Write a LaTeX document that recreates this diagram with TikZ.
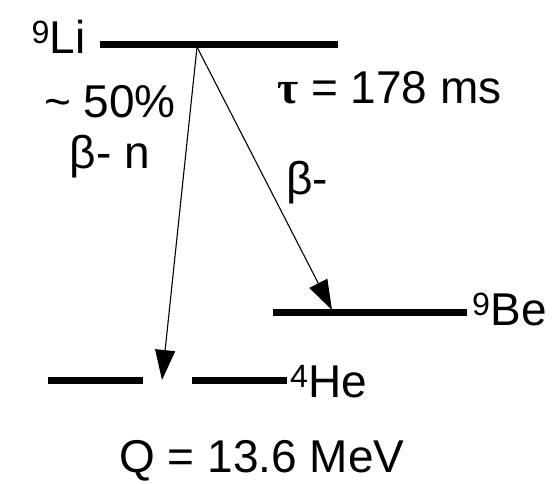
\documentclass[tikz,border=0pt]{standalone}
\usepackage{fontspec}
\setmainfont{Liberation Sans}
\newfontfamily\taufont{Liberation Serif}
\usetikzlibrary{arrows.meta}
\tikzset{
  level/.style={line width=7pt},
  decay/.style={line width=1.1pt,-{Triangle[length=30pt,width=20pt]}},
  lbl/.style={inner sep=0pt,font=\fontsize{46}{51}\selectfont},
}
\begin{document}
\begin{tikzpicture}[x=1pt,y=-1pt]
\useasboundingbox (0,0) rectangle (555,483);
% levels
\coordinate (li1) at (100,44); \coordinate (li2) at (338,44);
\coordinate (be1) at (273,312); \coordinate (be2) at (467,312);
\coordinate (he1) at (48,380); \coordinate (he2) at (143,380);
\coordinate (he3) at (192,380); \coordinate (he4) at (287,380);
\draw[level] (li1) -- (li2);
\draw[level] (be1) -- (be2);
\draw[level] (he1) -- (he2);
\draw[level] (he3) -- (he4);
% decays
\coordinate (src) at (197,47);
\coordinate (tipn) at (162,380);
\coordinate (tipb) at (332,310);
\draw[decay] (src) -- (tipn);
\draw[decay] (src) -- (tipb);
% labels
\node[lbl,anchor=base east] (li) at (86,53) {\textsuperscript{9}Li};
\node[lbl,anchor=base west] (tau) at (277,103) {{\taufont\bfseries τ} = 178 ms};
\node[lbl,align=center,anchor=base] (bn) at (110,168) {\textasciitilde{} 50\%\\β- n};
\node[lbl,anchor=base west] (bm) at (286,194) {β-};
\node[lbl,anchor=base west] (be) at (472,325) {\textsuperscript{9}Be};
\node[lbl,anchor=base west] (he) at (290,397) {\textsuperscript{4}He};
\node[lbl,anchor=base] (q) at (262,472) {Q = 13.6 MeV};
\end{tikzpicture}
\end{document}
